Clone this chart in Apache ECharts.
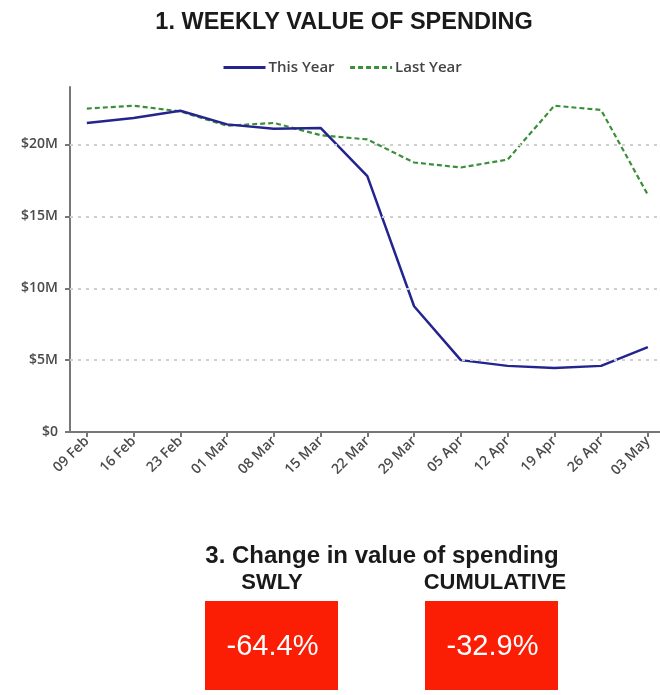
<!DOCTYPE html>
<html>
<head>
<meta charset="utf-8">
<script src="https://cdn.jsdelivr.net/npm/echarts@6/dist/echarts.min.js"></script>
<style>
  html, body { margin: 0; padding: 0; background: #ffffff; }
  #chart { width: 660px; height: 695px; }
</style>
</head>
<body>
<div id="chart"></div>
<script>
// Week-commencing labels
const weeks = ['09 Feb', '16 Feb', '23 Feb', '01 Mar', '08 Mar', '15 Mar', '22 Mar',
               '29 Mar', '05 Apr', '12 Apr', '19 Apr', '26 Apr', '03 May'];
// Weekly spend, millions of dollars
const thisYear = [21.5, 21.85, 22.35, 21.4, 21.1, 21.15, 17.8, 8.75, 5.0, 4.6, 4.45, 4.6, 5.9];
const lastYear = [22.5, 22.7, 22.3, 21.3, 21.5, 20.65, 20.35, 18.75, 18.4, 18.95, 22.7, 22.4, 16.5];
// Y-axis ticks (millions)
const yTicks = [0, 5, 10, 15, 20];
// Headline change figures
const kpiLabels = ['SWLY', 'CUMULATIVE'];
const kpiValues = ['-64.4%', '-32.9%'];

const M = 1e6;
const toPoints = arr => arr.map((v, i) => [i, v * M]);
const weekIdx = weeks.map((_, i) => i);

const chart = echarts.init(document.getElementById('chart'), null, { renderer: 'canvas' });

// KPI tiles under the chart
const boxW = 133, boxH = 89, boxTop = 601;
const boxLefts = [205, 425];
const headCentres = [272, 495];
const kpiGraphics = [];
kpiLabels.forEach((lab, i) => {
  const cx = boxLefts[i] + boxW / 2;
  kpiGraphics.push({
    type: 'text', x: headCentres[i], y: 583,
    style: { text: lab, font: 'bold 22px "Liberation Sans", Arial, sans-serif', fill: '#1a1a1a',
             align: 'center', verticalAlign: 'middle' }
  });
  kpiGraphics.push({
    type: 'rect', shape: { x: boxLefts[i], y: boxTop, width: boxW, height: boxH },
    style: { fill: '#fb1e05' }
  });
  kpiGraphics.push({
    type: 'text', x: cx + 1, y: 647,
    style: { text: kpiValues[i], font: '29px "Liberation Sans", Arial, sans-serif', fill: '#ffffff',
             align: 'center', verticalAlign: 'middle' }
  });
});

const labelFont = { fontFamily: '"Open Sans", sans-serif', fontSize: 14, fontWeight: 600, color: '#4a4a4a' };

const option = {
  backgroundColor: '#ffffff',
  animation: false,
  title: {
    text: '1. WEEKLY VALUE OF SPENDING',
    left: 339, top: 6, textAlign: 'center',
    textStyle: { fontFamily: '"Liberation Sans", Arial, sans-serif', fontWeight: 'bold', fontSize: 23.5, color: '#1a1a1a' }
  },
  legend: {
    top: 55, left: 217,
    itemWidth: 42, itemHeight: 14, itemGap: 14,
    itemStyle: { opacity: 0 },
    lineStyle: { width: 3 },
    textStyle: { fontFamily: '"Open Sans", sans-serif', fontSize: 15, fontWeight: 600, color: '#444', padding: [0, 0, 0, -2] },
    data: ['This Year', 'Last Year']
  },
  grid: { left: 70, right: 0, top: 87, height: 345, containLabel: false },
  xAxis: {
    type: 'value',
    min: -0.36, max: 12.26,
    splitLine: { show: false },
    axisLine: { show: true, onZero: false, lineStyle: { color: '#777', width: 2 } },
    axisTick: { show: true, length: 5, customValues: weekIdx, lineStyle: { color: '#777', width: 2 } },
    axisLabel: Object.assign({
      customValues: weekIdx,
      formatter: v => weeks[Math.round(v)] || '',
      rotate: 45, margin: 7
    }, labelFont)
  },
  yAxis: {
    type: 'value',
    min: 0, max: 24 * M,
    splitLine: { show: false },
    axisLine: { show: true, onZero: false, lineStyle: { color: '#777', width: 2 } },
    axisTick: { show: true, length: 5, customValues: yTicks.map(t => t * M), lineStyle: { color: '#777', width: 2 } },
    axisLabel: Object.assign({
      customValues: yTicks.map(t => t * M),
      formatter: v => '$' + Math.round(v / M) + (v === 0 ? '' : 'M'),
      margin: 12
    }, labelFont)
  },
  series: [
    {
      name: 'This Year', type: 'line', data: toPoints(thisYear),
      showSymbol: false, symbol: 'none', z: 3,
      color: '#24248f',
      lineStyle: { color: '#24248f', width: 2.5 },
      markLine: {
        silent: true, symbol: 'none', label: { show: false },
        lineStyle: { color: '#cfcfcf', width: 2, type: [3, 5] },
        data: yTicks.filter(t => t > 0).map(t => ({ yAxis: t * M }))
      }
    },
    {
      name: 'Last Year', type: 'line', data: toPoints(lastYear),
      showSymbol: false, symbol: 'none', z: 2,
      color: '#4aa83f',
      lineStyle: { color: '#3c8f3a', width: 2.2, type: [5, 3] }
    }
  ],
  graphic: [
    {
      type: 'text', x: 382, y: 556,
      style: { text: '3. Change in value of spending', font: 'bold 24px "Liberation Sans", Arial, sans-serif',
               fill: '#1a1a1a', align: 'center', verticalAlign: 'middle' }
    }
  ].concat(kpiGraphics)
};

chart.setOption(option);
</script>
</body>
</html>
